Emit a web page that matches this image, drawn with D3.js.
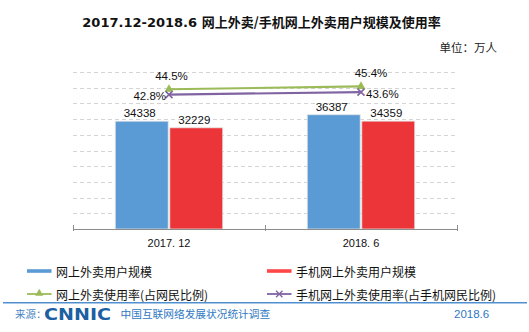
<!DOCTYPE html>
<html>
<head>
<meta charset="utf-8">
<script src="https://cdn.jsdelivr.net/npm/d3@7"></script>
<style>
  html, body { margin: 0; padding: 0; background: #fff; }
  svg { display: block; }
</style>
</head>
<body>
<svg id="chart" width="529" height="332"></svg>
<script>
// ---------- data ----------
const categories = ["2017. 12", "2018. 6"];
const barSeries = ["网上外卖用户规模", "手机网上外卖用户规模"];
const userTotal = [34338, 36387];
const userMobile = [32229, 34359];
const lineSeries = ["网上外卖使用率(占网民比例)", "手机网上外卖使用率(占手机网民比例)"];
const rateTotal = [44.5, 45.4];
const rateMobile = [42.8, 43.6];
const yMax = 50000;
const yStep = 5000;
const rateMax = 50;

// ---------- layout ----------
const W = 529, H = 332;
const plot = { left: 73, right: 457, top: 72, bottom: 229 };
const colors = { blue: "#5b9bd5", red: "#ec3539", green: "#9bbb59", purple: "#8064a2" };
const CJK = "'Noto Sans CJK SC', 'Liberation Sans', sans-serif";
const LAT = "'Liberation Sans', Arial, 'Noto Sans CJK SC', sans-serif";

const svg = d3.select("#chart");

// Scales
const x0 = d3.scaleBand().domain(categories).range([plot.left, plot.right]).paddingInner(0).paddingOuter(0);
const x1 = d3.scaleBand().domain(barSeries)
  .range([x0.bandwidth() * 0.22, x0.bandwidth() * 0.78]).paddingInner(0.03);
const y = d3.scaleLinear().domain([0, yMax]).range([plot.bottom, plot.top]);
const y2 = d3.scaleLinear().domain([0, rateMax]).range([plot.bottom, plot.top]);

// Title
const title = svg.append("text").attr("x", 261.5).attr("y", 27)
  .attr("text-anchor", "middle").attr("font-weight", "bold").attr("fill", "#111");
title.append("tspan").attr("font-family", "'DejaVu Sans', sans-serif").attr("font-size", 13)
  .text("2017.12-2018.6 ");
title.append("tspan").attr("font-family", CJK).attr("font-size", 13)
  .text("网上外卖/手机网上外卖用户规模及使用率");

svg.append("text").attr("x", 497).attr("y", 52).attr("text-anchor", "end")
  .attr("font-family", CJK).attr("font-size", 11.5).attr("fill", "#222")
  .text("单位：万人");

// Grid lines
const gridVals = d3.range(yStep, yMax + 1, yStep);
svg.append("g").selectAll("line").data(gridVals).join("line")
  .attr("x1", plot.left).attr("x2", plot.right)
  .attr("y1", d => Math.round(y(d)) + 0.5).attr("y2", d => Math.round(y(d)) + 0.5)
  .attr("stroke", "#d4d4d4").attr("stroke-width", 1).attr("stroke-dasharray", "4,3");

// Bars
const barData = categories.map((c, i) => ({ cat: c, vals: [
  { s: barSeries[0], v: userTotal[i], c: colors.blue },
  { s: barSeries[1], v: userMobile[i], c: colors.red }
]}));
const groups = svg.append("g").selectAll("g").data(barData).join("g")
  .attr("transform", d => `translate(${x0(d.cat)},0)`);
groups.selectAll("rect").data(d => d.vals).join("rect")
  .attr("x", d => x1(d.s)).attr("width", x1.bandwidth())
  .attr("y", d => y(d.v)).attr("height", d => y(0) - y(d.v))
  .attr("fill", d => d.c).attr("stroke", "#e4e4e4").attr("stroke-width", 0.8);
groups.selectAll("text").data(d => d.vals).join("text")
  .attr("x", d => x1(d.s) + x1.bandwidth() / 2 - 2)
  .attr("y", d => y(d.v) - 4)
  .attr("text-anchor", "middle").attr("font-family", LAT).attr("font-size", 11.5)
  .attr("fill", "#111").text(d => d.v);

// Category axis
const axisG = svg.append("g").attr("transform", `translate(0,${plot.bottom})`);
axisG.append("line").attr("x1", plot.left).attr("x2", plot.right).attr("y1", 0.5).attr("y2", 0.5)
  .attr("stroke", "#8c8c8c").attr("stroke-width", 1.2);
const tickXs = categories.map(c => x0(c)).concat([x0(categories[categories.length - 1]) + x0.bandwidth()]);
axisG.selectAll("line.tick").data(tickXs).join("line").attr("class", "tick")
  .attr("x1", d => Math.round(d) + 0.5).attr("x2", d => Math.round(d) + 0.5)
  .attr("y1", -4).attr("y2", 2).attr("stroke", "#8c8c8c");
axisG.selectAll("text").data(categories).join("text")
  .attr("x", d => x0(d) + x0.bandwidth() / 2).attr("y", 18)
  .attr("text-anchor", "middle").attr("font-family", LAT).attr("font-size", 11)
  .attr("fill", "#111").text(d => d);

// Lines
const cx = c => x0(c) + x0.bandwidth() / 2;
const lineGen = d3.line().x(d => cx(d.cat)).y(d => y2(d.v));
const greenPts = categories.map((c, i) => ({ cat: c, v: rateTotal[i] }));
const purplePts = categories.map((c, i) => ({ cat: c, v: rateMobile[i] }));

svg.append("path").datum(greenPts).attr("d", lineGen).attr("fill", "none")
  .attr("stroke", colors.green).attr("stroke-width", 2.2);
svg.append("path").datum(purplePts).attr("d", lineGen).attr("fill", "none")
  .attr("stroke", colors.purple).attr("stroke-width", 2.2);

const tri = d3.symbol().type(d3.symbolTriangle).size(34);
svg.append("g").selectAll("path").data(greenPts).join("path")
  .attr("d", tri).attr("transform", d => `translate(${cx(d.cat)},${y2(d.v)})`)
  .attr("fill", colors.green);
svg.append("g").selectAll("path").data(purplePts).join("path")
  .attr("d", d => { const r = 3.5; return `M${-r},${-r}L${r},${r}M${-r},${r}L${r},${-r}`; })
  .attr("transform", d => `translate(${cx(d.cat)},${y2(d.v)})`)
  .attr("stroke", colors.purple).attr("stroke-width", 1.6).attr("fill", "none");

// Line labels
const greenLabelDx = [2.5, 10];
svg.append("g").selectAll("text").data(greenPts).join("text")
  .attr("x", (d, i) => cx(d.cat) + greenLabelDx[i]).attr("y", d => y2(d.v) - 9.5)
  .attr("text-anchor", "middle").attr("font-family", LAT).attr("font-size", 11.5)
  .attr("fill", "#111").text(d => d.v.toFixed(1) + "%");
svg.append("g").selectAll("text").data(purplePts).join("text")
  .attr("x", (d, i) => i === 0 ? cx(d.cat) - 3 : cx(d.cat) + 5)
  .attr("y", d => y2(d.v) + 5.5)
  .attr("text-anchor", (d, i) => i === 0 ? "end" : "start")
  .attr("font-family", LAT).attr("font-size", 11.5)
  .attr("fill", "#111").text(d => d.v.toFixed(1) + "%");

// Legend
const legend = svg.append("g");
const legItems = [
  { name: barSeries[0], color: colors.blue, kind: "bar", x: 27, y: 271 },
  { name: barSeries[1], color: "#ff4747", kind: "bar", x: 267, y: 271 },
  { name: lineSeries[0], color: colors.green, kind: "tri", x: 27, y: 294 },
  { name: lineSeries[1], color: colors.purple, kind: "x", x: 267, y: 294 }
];
legItems.forEach(it => {
  const g = legend.append("g").attr("transform", `translate(${it.x},${it.y})`);
  if (it.kind === "bar") {
    g.append("rect").attr("x", 0).attr("y", -1.8).attr("width", 24.5).attr("height", 3.6).attr("fill", it.color);
  } else {
    g.append("line").attr("x1", 0).attr("x2", 24.5).attr("y1", 0).attr("y2", 0)
      .attr("stroke", it.color).attr("stroke-width", 1.8);
    if (it.kind === "tri") {
      g.append("path").attr("d", d3.symbol().type(d3.symbolTriangle).size(28)())
        .attr("transform", "translate(12.25,-0.5)").attr("fill", it.color);
    } else {
      const r = 3.2;
      g.append("path").attr("d", `M${12.25 - r},${-r}L${12.25 + r},${r}M${12.25 - r},${r}L${12.25 + r},${-r}`)
        .attr("stroke", it.color).attr("stroke-width", 1.3);
    }
  }
  g.append("text").attr("x", 29).attr("y", 5.5).attr("font-family", CJK).attr("font-size", 12)
    .attr("fill", "#111").text(it.name);
});

// Footer
svg.append("line").attr("x1", 3).attr("x2", 527).attr("y1", 302.7).attr("y2", 302.7)
  .attr("stroke", "#4f8fd0").attr("stroke-width", 1.4);
svg.append("text").attr("x", 15).attr("y", 318).attr("font-family", CJK).attr("font-size", 10.5)
  .attr("fill", "#4a86c5").text("来源：");
svg.append("text").attr("x", 44).attr("y", 319.6).attr("font-family", "'DejaVu Sans', sans-serif")
  .attr("font-weight", "bold").attr("font-size", 15).attr("fill", "#1d5fa3")
  .attr("textLength", 67).attr("lengthAdjust", "spacingAndGlyphs").text("CNNIC");
svg.append("text").attr("x", 120.5).attr("y", 318).attr("font-family", CJK).attr("font-size", 10.7)
  .attr("fill", "#2f78c4").text("中国互联网络发展状况统计调查");
svg.append("text").attr("x", 454).attr("y", 318).attr("font-family", LAT).attr("font-size", 11.5)
  .attr("fill", "#2f78c4").text("2018.6");
</script>
</body>
</html>
